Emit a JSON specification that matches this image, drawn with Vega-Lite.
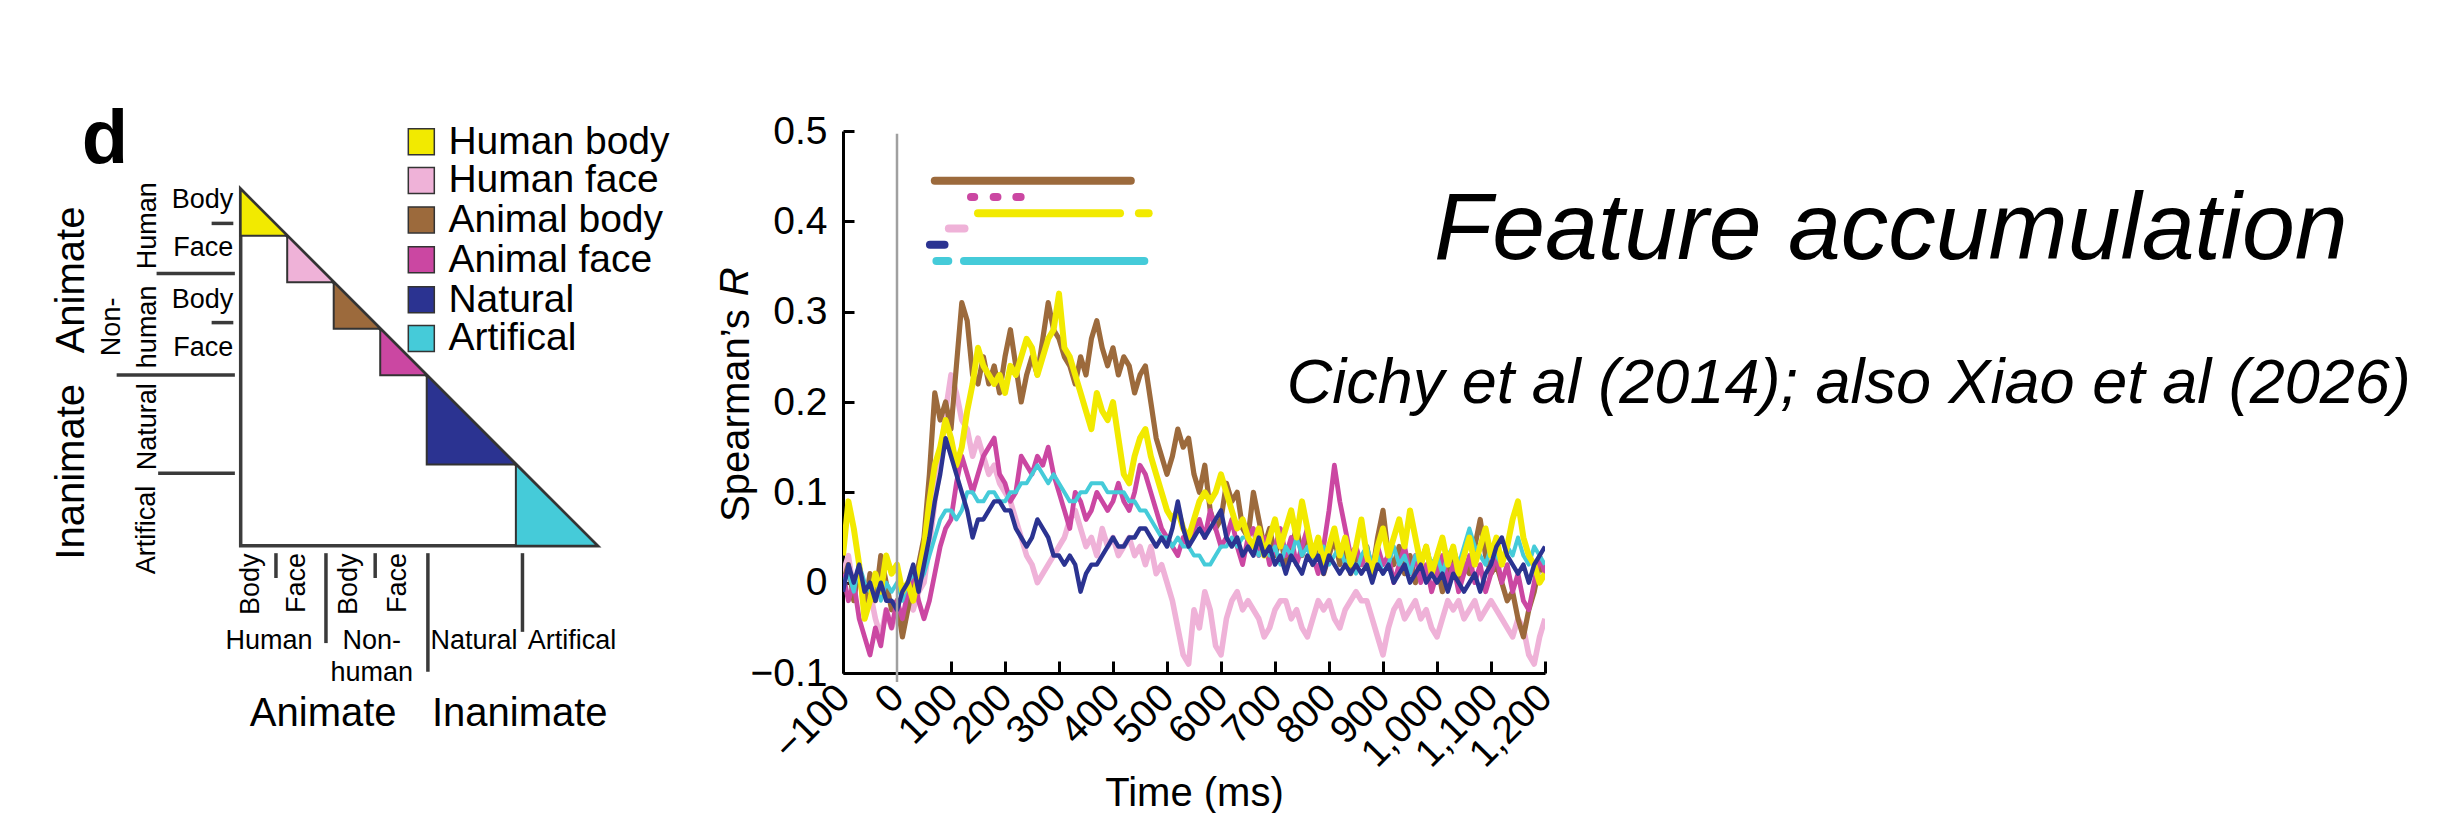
{
  "$schema": "https://vega.github.io/schema/vega-lite/v6.json",
  "padding": 0,
  "background": "white",
  "columns": 3,
  "align": "each",
  "bounds": "flush",
  "spacing": 0,
  "config": {
    "view": {"stroke": null},
    "font": "Liberation Sans",
    "text": {"font": "Liberation Sans", "color": "#000000"},
    "axis": {"labelFont": "Liberation Sans", "titleFont": "Liberation Sans"}
  },
  "datasets": {
    "names": [
      {"k": "hb", "category": "Human body"},
      {"k": "hf", "category": "Human face"},
      {"k": "ab", "category": "Animal body"},
      {"k": "af", "category": "Animal face"},
      {"k": "nat", "category": "Natural"},
      {"k": "art", "category": "Artifical"}
    ],
    "legendrows": [
      {"category": "Human body", "v": -12.3},
      {"category": "Human face", "v": -2.3},
      {"category": "Animal body", "v": 7.9},
      {"category": "Animal face", "v": 18.2},
      {"category": "Natural", "v": 28.5},
      {"category": "Artifical", "v": 38.5}
    ],
    "series": [
      {"t": -100, "hb": 0.03, "hf": 0.01, "ab": 0.00, "af": 0.01, "nat": -0.01, "art": 0.00},
      {"t": -90, "hb": 0.09, "hf": 0.03, "ab": 0.02, "af": -0.02, "nat": 0.02, "art": 0.01},
      {"t": -80, "hb": 0.06, "hf": -0.01, "ab": -0.02, "af": 0.00, "nat": 0.00, "art": -0.01},
      {"t": -70, "hb": 0.02, "hf": 0.01, "ab": 0.02, "af": -0.04, "nat": 0.02, "art": 0.02},
      {"t": -60, "hb": -0.04, "hf": -0.03, "ab": -0.03, "af": -0.06, "nat": -0.01, "art": 0.00},
      {"t": -50, "hb": -0.02, "hf": -0.01, "ab": 0.01, "af": -0.08, "nat": 0.00, "art": -0.01},
      {"t": -40, "hb": 0.01, "hf": -0.04, "ab": -0.02, "af": -0.05, "nat": -0.02, "art": 0.01},
      {"t": -30, "hb": -0.01, "hf": -0.06, "ab": 0.03, "af": -0.07, "nat": 0.00, "art": -0.02},
      {"t": -20, "hb": 0.03, "hf": -0.03, "ab": 0.00, "af": -0.03, "nat": -0.02, "art": 0.00},
      {"t": -10, "hb": 0.01, "hf": -0.05, "ab": -0.03, "af": -0.05, "nat": -0.02, "art": -0.01},
      {"t": 0, "hb": 0.02, "hf": -0.03, "ab": -0.02, "af": -0.02, "nat": -0.03, "art": 0.00},
      {"t": 10, "hb": -0.01, "hf": -0.04, "ab": -0.06, "af": -0.04, "nat": -0.01, "art": -0.02},
      {"t": 20, "hb": 0.00, "hf": -0.02, "ab": -0.03, "af": -0.01, "nat": 0.00, "art": 0.00},
      {"t": 30, "hb": -0.02, "hf": -0.03, "ab": 0.00, "af": 0.01, "nat": 0.02, "art": 0.01},
      {"t": 40, "hb": 0.01, "hf": -0.01, "ab": 0.02, "af": -0.02, "nat": -0.01, "art": 0.00},
      {"t": 50, "hb": 0.04, "hf": 0.00, "ab": 0.05, "af": -0.04, "nat": 0.02, "art": 0.01},
      {"t": 60, "hb": 0.09, "hf": 0.04, "ab": 0.12, "af": -0.02, "nat": 0.05, "art": 0.03},
      {"t": 70, "hb": 0.13, "hf": 0.09, "ab": 0.21, "af": 0.01, "nat": 0.09, "art": 0.05},
      {"t": 80, "hb": 0.15, "hf": 0.13, "ab": 0.18, "af": 0.04, "nat": 0.12, "art": 0.07},
      {"t": 90, "hb": 0.18, "hf": 0.19, "ab": 0.20, "af": 0.06, "nat": 0.16, "art": 0.08},
      {"t": 100, "hb": 0.16, "hf": 0.23, "ab": 0.17, "af": 0.07, "nat": 0.14, "art": 0.08},
      {"t": 110, "hb": 0.13, "hf": 0.21, "ab": 0.24, "af": 0.11, "nat": 0.12, "art": 0.07},
      {"t": 120, "hb": 0.15, "hf": 0.18, "ab": 0.31, "af": 0.14, "nat": 0.10, "art": 0.08},
      {"t": 130, "hb": 0.19, "hf": 0.17, "ab": 0.29, "af": 0.12, "nat": 0.08, "art": 0.10},
      {"t": 140, "hb": 0.22, "hf": 0.14, "ab": 0.23, "af": 0.10, "nat": 0.05, "art": 0.10},
      {"t": 150, "hb": 0.26, "hf": 0.16, "ab": 0.22, "af": 0.12, "nat": 0.07, "art": 0.09},
      {"t": 160, "hb": 0.24, "hf": 0.14, "ab": 0.25, "af": 0.14, "nat": 0.07, "art": 0.09},
      {"t": 170, "hb": 0.23, "hf": 0.12, "ab": 0.22, "af": 0.15, "nat": 0.08, "art": 0.10},
      {"t": 180, "hb": 0.22, "hf": 0.13, "ab": 0.24, "af": 0.16, "nat": 0.09, "art": 0.10},
      {"t": 190, "hb": 0.23, "hf": 0.11, "ab": 0.21, "af": 0.12, "nat": 0.09, "art": 0.09},
      {"t": 200, "hb": 0.21, "hf": 0.10, "ab": 0.25, "af": 0.11, "nat": 0.08, "art": 0.09},
      {"t": 210, "hb": 0.24, "hf": 0.09, "ab": 0.28, "af": 0.09, "nat": 0.08, "art": 0.10},
      {"t": 220, "hb": 0.23, "hf": 0.07, "ab": 0.24, "af": 0.10, "nat": 0.06, "art": 0.10},
      {"t": 230, "hb": 0.25, "hf": 0.05, "ab": 0.20, "af": 0.14, "nat": 0.05, "art": 0.11},
      {"t": 240, "hb": 0.27, "hf": 0.03, "ab": 0.23, "af": 0.13, "nat": 0.04, "art": 0.11},
      {"t": 250, "hb": 0.26, "hf": 0.02, "ab": 0.25, "af": 0.12, "nat": 0.05, "art": 0.12},
      {"t": 260, "hb": 0.23, "hf": 0.00, "ab": 0.23, "af": 0.14, "nat": 0.07, "art": 0.13},
      {"t": 270, "hb": 0.25, "hf": 0.01, "ab": 0.27, "af": 0.13, "nat": 0.06, "art": 0.12},
      {"t": 280, "hb": 0.27, "hf": 0.02, "ab": 0.31, "af": 0.15, "nat": 0.05, "art": 0.11},
      {"t": 290, "hb": 0.28, "hf": 0.03, "ab": 0.28, "af": 0.12, "nat": 0.03, "art": 0.12},
      {"t": 300, "hb": 0.32, "hf": 0.04, "ab": 0.27, "af": 0.10, "nat": 0.03, "art": 0.11},
      {"t": 310, "hb": 0.26, "hf": 0.05, "ab": 0.25, "af": 0.08, "nat": 0.02, "art": 0.10},
      {"t": 320, "hb": 0.25, "hf": 0.07, "ab": 0.24, "af": 0.06, "nat": 0.03, "art": 0.09},
      {"t": 330, "hb": 0.23, "hf": 0.08, "ab": 0.22, "af": 0.10, "nat": 0.02, "art": 0.09},
      {"t": 340, "hb": 0.21, "hf": 0.06, "ab": 0.25, "af": 0.09, "nat": -0.01, "art": 0.10},
      {"t": 350, "hb": 0.19, "hf": 0.04, "ab": 0.23, "af": 0.07, "nat": 0.01, "art": 0.10},
      {"t": 360, "hb": 0.17, "hf": 0.05, "ab": 0.27, "af": 0.08, "nat": 0.02, "art": 0.11},
      {"t": 370, "hb": 0.21, "hf": 0.03, "ab": 0.29, "af": 0.10, "nat": 0.02, "art": 0.11},
      {"t": 380, "hb": 0.19, "hf": 0.06, "ab": 0.26, "af": 0.09, "nat": 0.03, "art": 0.11},
      {"t": 390, "hb": 0.18, "hf": 0.04, "ab": 0.24, "af": 0.08, "nat": 0.04, "art": 0.10},
      {"t": 400, "hb": 0.20, "hf": 0.05, "ab": 0.26, "af": 0.09, "nat": 0.05, "art": 0.10},
      {"t": 410, "hb": 0.16, "hf": 0.03, "ab": 0.23, "af": 0.11, "nat": 0.04, "art": 0.10},
      {"t": 420, "hb": 0.12, "hf": 0.04, "ab": 0.25, "af": 0.09, "nat": 0.04, "art": 0.10},
      {"t": 430, "hb": 0.11, "hf": 0.05, "ab": 0.24, "af": 0.08, "nat": 0.05, "art": 0.09},
      {"t": 440, "hb": 0.14, "hf": 0.03, "ab": 0.21, "af": 0.10, "nat": 0.05, "art": 0.09},
      {"t": 450, "hb": 0.16, "hf": 0.04, "ab": 0.23, "af": 0.13, "nat": 0.06, "art": 0.08},
      {"t": 460, "hb": 0.17, "hf": 0.02, "ab": 0.24, "af": 0.12, "nat": 0.06, "art": 0.08},
      {"t": 470, "hb": 0.14, "hf": 0.04, "ab": 0.20, "af": 0.10, "nat": 0.05, "art": 0.07},
      {"t": 480, "hb": 0.12, "hf": 0.01, "ab": 0.16, "af": 0.08, "nat": 0.04, "art": 0.06},
      {"t": 490, "hb": 0.10, "hf": 0.02, "ab": 0.14, "af": 0.06, "nat": 0.05, "art": 0.05},
      {"t": 500, "hb": 0.08, "hf": 0.00, "ab": 0.12, "af": 0.05, "nat": 0.04, "art": 0.05},
      {"t": 510, "hb": 0.07, "hf": -0.02, "ab": 0.14, "af": 0.04, "nat": 0.06, "art": 0.04},
      {"t": 520, "hb": 0.08, "hf": -0.05, "ab": 0.17, "af": 0.03, "nat": 0.09, "art": 0.05},
      {"t": 530, "hb": 0.06, "hf": -0.08, "ab": 0.15, "af": 0.05, "nat": 0.06, "art": 0.04},
      {"t": 540, "hb": 0.05, "hf": -0.09, "ab": 0.16, "af": 0.04, "nat": 0.04, "art": 0.04},
      {"t": 550, "hb": 0.07, "hf": -0.03, "ab": 0.12, "af": 0.06, "nat": 0.05, "art": 0.03},
      {"t": 560, "hb": 0.09, "hf": -0.05, "ab": 0.10, "af": 0.07, "nat": 0.06, "art": 0.03},
      {"t": 570, "hb": 0.10, "hf": -0.01, "ab": 0.13, "af": 0.05, "nat": 0.05, "art": 0.02},
      {"t": 580, "hb": 0.09, "hf": -0.03, "ab": 0.08, "af": 0.08, "nat": 0.06, "art": 0.02},
      {"t": 590, "hb": 0.10, "hf": -0.07, "ab": 0.06, "af": 0.06, "nat": 0.07, "art": 0.03},
      {"t": 600, "hb": 0.12, "hf": -0.08, "ab": 0.07, "af": 0.04, "nat": 0.08, "art": 0.04},
      {"t": 610, "hb": 0.10, "hf": -0.04, "ab": 0.11, "af": 0.05, "nat": 0.05, "art": 0.04},
      {"t": 620, "hb": 0.08, "hf": -0.02, "ab": 0.09, "af": 0.07, "nat": 0.04, "art": 0.05},
      {"t": 630, "hb": 0.06, "hf": -0.01, "ab": 0.10, "af": 0.04, "nat": 0.05, "art": 0.04},
      {"t": 640, "hb": 0.07, "hf": -0.03, "ab": 0.06, "af": 0.02, "nat": 0.03, "art": 0.05},
      {"t": 650, "hb": 0.05, "hf": -0.02, "ab": 0.05, "af": 0.05, "nat": 0.04, "art": 0.05},
      {"t": 660, "hb": 0.04, "hf": -0.03, "ab": 0.10, "af": 0.06, "nat": 0.03, "art": 0.04},
      {"t": 670, "hb": 0.06, "hf": -0.04, "ab": 0.07, "af": 0.03, "nat": 0.05, "art": 0.03},
      {"t": 680, "hb": 0.03, "hf": -0.06, "ab": 0.04, "af": 0.05, "nat": 0.03, "art": 0.04},
      {"t": 690, "hb": 0.05, "hf": -0.05, "ab": 0.06, "af": 0.02, "nat": 0.04, "art": 0.03},
      {"t": 700, "hb": 0.07, "hf": -0.03, "ab": 0.03, "af": 0.04, "nat": 0.02, "art": 0.04},
      {"t": 710, "hb": 0.04, "hf": -0.02, "ab": 0.05, "af": 0.06, "nat": 0.03, "art": 0.02},
      {"t": 720, "hb": 0.06, "hf": -0.02, "ab": 0.02, "af": 0.03, "nat": 0.01, "art": 0.04},
      {"t": 730, "hb": 0.08, "hf": -0.04, "ab": 0.04, "af": 0.05, "nat": 0.03, "art": 0.03},
      {"t": 740, "hb": 0.05, "hf": -0.03, "ab": 0.06, "af": 0.02, "nat": 0.02, "art": 0.05},
      {"t": 750, "hb": 0.09, "hf": -0.05, "ab": 0.03, "af": 0.04, "nat": 0.01, "art": 0.03},
      {"t": 760, "hb": 0.06, "hf": -0.06, "ab": 0.05, "af": 0.06, "nat": 0.03, "art": 0.04},
      {"t": 770, "hb": 0.03, "hf": -0.04, "ab": 0.02, "af": 0.03, "nat": 0.02, "art": 0.02},
      {"t": 780, "hb": 0.05, "hf": -0.02, "ab": 0.04, "af": 0.01, "nat": 0.03, "art": 0.03},
      {"t": 790, "hb": 0.02, "hf": -0.03, "ab": 0.01, "af": 0.04, "nat": 0.01, "art": 0.04},
      {"t": 800, "hb": 0.04, "hf": -0.02, "ab": 0.03, "af": 0.08, "nat": 0.03, "art": 0.02},
      {"t": 810, "hb": 0.06, "hf": -0.04, "ab": 0.05, "af": 0.13, "nat": 0.02, "art": 0.03},
      {"t": 820, "hb": 0.03, "hf": -0.05, "ab": 0.02, "af": 0.09, "nat": 0.01, "art": 0.04},
      {"t": 830, "hb": 0.05, "hf": -0.03, "ab": 0.04, "af": 0.06, "nat": 0.02, "art": 0.02},
      {"t": 840, "hb": 0.02, "hf": -0.02, "ab": 0.01, "af": 0.03, "nat": 0.01, "art": 0.03},
      {"t": 850, "hb": 0.04, "hf": -0.01, "ab": 0.03, "af": 0.04, "nat": 0.02, "art": 0.01},
      {"t": 860, "hb": 0.07, "hf": -0.02, "ab": 0.02, "af": 0.02, "nat": 0.01, "art": 0.03},
      {"t": 870, "hb": 0.03, "hf": -0.02, "ab": 0.04, "af": 0.03, "nat": 0.02, "art": 0.04},
      {"t": 880, "hb": 0.01, "hf": -0.04, "ab": 0.01, "af": 0.01, "nat": 0.00, "art": 0.02},
      {"t": 890, "hb": 0.04, "hf": -0.06, "ab": 0.05, "af": 0.04, "nat": 0.02, "art": 0.03},
      {"t": 900, "hb": 0.06, "hf": -0.08, "ab": 0.08, "af": 0.02, "nat": 0.01, "art": 0.01},
      {"t": 910, "hb": 0.03, "hf": -0.05, "ab": 0.03, "af": 0.03, "nat": 0.02, "art": 0.02},
      {"t": 920, "hb": 0.05, "hf": -0.03, "ab": 0.02, "af": 0.00, "nat": 0.00, "art": 0.04},
      {"t": 930, "hb": 0.07, "hf": -0.02, "ab": 0.04, "af": 0.02, "nat": 0.01, "art": 0.02},
      {"t": 940, "hb": 0.04, "hf": -0.04, "ab": 0.01, "af": 0.04, "nat": 0.02, "art": 0.03},
      {"t": 950, "hb": 0.08, "hf": -0.03, "ab": 0.03, "af": 0.01, "nat": 0.00, "art": 0.01},
      {"t": 960, "hb": 0.05, "hf": -0.02, "ab": 0.00, "af": 0.03, "nat": 0.01, "art": 0.03},
      {"t": 970, "hb": 0.02, "hf": -0.04, "ab": 0.02, "af": 0.00, "nat": 0.02, "art": 0.02},
      {"t": 980, "hb": 0.04, "hf": -0.03, "ab": 0.04, "af": 0.02, "nat": 0.00, "art": 0.04},
      {"t": 990, "hb": 0.01, "hf": -0.05, "ab": 0.01, "af": -0.01, "nat": 0.01, "art": 0.02},
      {"t": 1000, "hb": 0.03, "hf": -0.06, "ab": 0.02, "af": 0.01, "nat": 0.00, "art": 0.03},
      {"t": 1010, "hb": 0.05, "hf": -0.04, "ab": -0.01, "af": 0.03, "nat": 0.01, "art": 0.01},
      {"t": 1020, "hb": 0.02, "hf": -0.02, "ab": 0.01, "af": 0.00, "nat": -0.01, "art": 0.03},
      {"t": 1030, "hb": 0.04, "hf": -0.03, "ab": 0.03, "af": 0.02, "nat": 0.01, "art": 0.04},
      {"t": 1040, "hb": 0.01, "hf": -0.02, "ab": 0.00, "af": -0.01, "nat": 0.00, "art": 0.02},
      {"t": 1050, "hb": 0.03, "hf": -0.04, "ab": 0.02, "af": 0.01, "nat": -0.01, "art": 0.04},
      {"t": 1060, "hb": 0.05, "hf": -0.03, "ab": 0.01, "af": 0.03, "nat": 0.00, "art": 0.06},
      {"t": 1070, "hb": 0.02, "hf": -0.02, "ab": 0.04, "af": 0.00, "nat": 0.01, "art": 0.04},
      {"t": 1080, "hb": 0.04, "hf": -0.04, "ab": 0.07, "af": 0.02, "nat": -0.01, "art": 0.03},
      {"t": 1090, "hb": 0.06, "hf": -0.03, "ab": 0.03, "af": -0.01, "nat": 0.01, "art": 0.02},
      {"t": 1100, "hb": 0.03, "hf": -0.02, "ab": 0.01, "af": 0.01, "nat": 0.02, "art": 0.04},
      {"t": 1110, "hb": 0.05, "hf": -0.03, "ab": 0.02, "af": 0.03, "nat": 0.04, "art": 0.03},
      {"t": 1120, "hb": 0.02, "hf": -0.04, "ab": 0.00, "af": 0.00, "nat": 0.05, "art": 0.02},
      {"t": 1130, "hb": 0.04, "hf": -0.05, "ab": -0.02, "af": 0.02, "nat": 0.03, "art": 0.04},
      {"t": 1140, "hb": 0.07, "hf": -0.06, "ab": -0.01, "af": -0.01, "nat": 0.02, "art": 0.03},
      {"t": 1150, "hb": 0.09, "hf": -0.04, "ab": -0.04, "af": 0.01, "nat": 0.01, "art": 0.05},
      {"t": 1160, "hb": 0.05, "hf": -0.05, "ab": -0.06, "af": -0.02, "nat": 0.02, "art": 0.03},
      {"t": 1170, "hb": 0.03, "hf": -0.08, "ab": -0.03, "af": -0.03, "nat": 0.00, "art": 0.02},
      {"t": 1180, "hb": 0.02, "hf": -0.09, "ab": -0.01, "af": 0.00, "nat": 0.02, "art": 0.04},
      {"t": 1190, "hb": 0.00, "hf": -0.06, "ab": 0.02, "af": 0.03, "nat": 0.03, "art": 0.03},
      {"t": 1200, "hb": 0.01, "hf": -0.04, "ab": 0.01, "af": 0.01, "nat": 0.04, "art": 0.02}
    ],
    "bars": [
      {"category": "Animal body", "start": 70, "end": 433, "level": 0.445},
      {"category": "Animal face", "start": 137, "end": 143, "level": 0.427},
      {"category": "Animal face", "start": 179, "end": 186, "level": 0.427},
      {"category": "Animal face", "start": 221, "end": 229, "level": 0.427},
      {"category": "Human body", "start": 150, "end": 413, "level": 0.409},
      {"category": "Human body", "start": 448, "end": 466, "level": 0.409},
      {"category": "Human face", "start": 96, "end": 125, "level": 0.392},
      {"category": "Natural", "start": 61, "end": 88, "level": 0.374},
      {"category": "Artifical", "start": 73, "end": 95, "level": 0.356},
      {"category": "Artifical", "start": 124, "end": 458, "level": 0.356}
    ],
    "blocks": [
      {"category": "Human body", "u": 0, "v": 0, "v2": 12},
      {"category": "Human body", "u": 12, "v": 12, "v2": 12},
      {"category": "Human face", "u": 12, "v": 12, "v2": 24},
      {"category": "Human face", "u": 24, "v": 24, "v2": 24},
      {"category": "Animal body", "u": 24, "v": 24, "v2": 36},
      {"category": "Animal body", "u": 36, "v": 36, "v2": 36},
      {"category": "Animal face", "u": 36, "v": 36, "v2": 48},
      {"category": "Animal face", "u": 48, "v": 48, "v2": 48},
      {"category": "Natural", "u": 48, "v": 48, "v2": 71},
      {"category": "Natural", "u": 71, "v": 71, "v2": 71},
      {"category": "Artifical", "u": 71, "v": 71, "v2": 92},
      {"category": "Artifical", "u": 92, "v": 92, "v2": 92}
    ],
    "dividers": [
      {"u1": -7.5, "u2": -1.9, "v1": 8.8, "v2": 8.8},
      {"u1": -21.7, "u2": -1.5, "v1": 21.7, "v2": 21.7},
      {"u1": -7.5, "u2": -1.9, "v1": 34.4, "v2": 34.4},
      {"u1": -32, "u2": -1.5, "v1": 47.9, "v2": 47.9},
      {"u1": -21.3, "u2": -1.5, "v1": 73.3, "v2": 73.3},
      {"u1": 9.1, "u2": 9.1, "v1": 93.9, "v2": 100.3},
      {"u1": 22.0, "u2": 22.0, "v1": 93.9, "v2": 117.1},
      {"u1": 34.7, "u2": 34.7, "v1": 93.9, "v2": 100.3},
      {"u1": 48.3, "u2": 48.3, "v1": 93.9, "v2": 124.5},
      {"u1": 72.7, "u2": 72.7, "v1": 93.9, "v2": 114.2}
    ]
  },
  "concat": [
    {
      "width": 843,
      "height": 131,
      "layer": [
        {
          "data": {"values": [{"u": 0, "v": 0, "v2": 92}, {"u": 92, "v": 92, "v2": 92}]},
          "mark": {"type": "area", "orient": "vertical", "fill": "white", "fillOpacity": 0, "stroke": "#3c3c3c", "strokeWidth": 3.5, "clip": false},
          "encoding": {
            "x": {"field": "u", "type": "quantitative", "scale": {"domain": [-62.1, 155.4], "nice": false, "zero": false}, "axis": null},
            "y": {"field": "v", "type": "quantitative", "scale": {"domain": [-48.85, -15.045], "nice": false, "zero": false, "reverse": true}, "axis": null},
            "y2": {"field": "v2"}
          }
        },
        {
          "data": {"name": "blocks"},
          "mark": {"type": "area", "orient": "vertical", "stroke": "#333333", "strokeWidth": 2, "opacity": 1, "fillOpacity": 1, "clip": false},
          "encoding": {
            "x": {"field": "u", "type": "quantitative"},
            "y": {"field": "v", "type": "quantitative"},
            "y2": {"field": "v2"},
            "color": {
              "field": "category", "type": "nominal", "legend": null,
              "scale": {"domain": ["Human body", "Human face", "Animal body", "Animal face", "Natural", "Artifical"], "range": ["#f2ea00", "#efb2d8", "#9c6a3c", "#cb47a2", "#2b3391", "#45cbd9"]}
            }
          }
        },
        {
          "data": {"name": "legendrows"},
          "mark": {"type": "square", "size": 676, "opacity": 1, "filled": true, "stroke": "#333333", "strokeWidth": 1.5, "clip": false},
          "encoding": {
            "x": {"datum": 46.6, "type": "quantitative"},
            "y": {"field": "v", "type": "quantitative"},
            "color": {"field": "category", "type": "nominal", "legend": null}
          }
        },
        {
          "data": {"name": "legendrows"},
          "mark": {"type": "text", "fontSize": 39, "align": "left", "baseline": "middle", "clip": false},
          "encoding": {
            "x": {"datum": 53.6, "type": "quantitative"},
            "y": {"field": "v", "type": "quantitative"},
            "text": {"field": "category"}
          }
        },
        {
          "data": {"name": "dividers"},
          "mark": {"type": "rule", "color": "#3a3a3a", "strokeWidth": 3.5, "clip": false},
          "encoding": {
            "x": {"field": "u1", "type": "quantitative"},
            "x2": {"field": "u2"},
            "y": {"field": "v1", "type": "quantitative"},
            "y2": {"field": "v2"}
          }
        },
        {
          "data": {"values": [
            {"label": "Body", "u": -1.9, "v": 2.8},
            {"label": "Face", "u": -1.9, "v": 15.2},
            {"label": "Body", "u": -1.9, "v": 28.6},
            {"label": "Face", "u": -1.9, "v": 41.0}
          ]},
          "mark": {"type": "text", "fontSize": 27, "align": "right", "baseline": "middle", "clip": false},
          "encoding": {"x": {"field": "u", "type": "quantitative"}, "y": {"field": "v", "type": "quantitative"}, "text": {"field": "label"}}
        },
        {
          "data": {"values": [
            {"label": "Human", "u": 7.3, "v": 116.5},
            {"label": "Non-", "u": 33.8, "v": 116.5},
            {"label": "human", "u": 33.8, "v": 124.9},
            {"label": "Natural", "u": 60.2, "v": 116.5},
            {"label": "Artifical", "u": 85.5, "v": 116.5}
          ]},
          "mark": {"type": "text", "fontSize": 27, "align": "center", "baseline": "middle", "clip": false},
          "encoding": {"x": {"field": "u", "type": "quantitative"}, "y": {"field": "v", "type": "quantitative"}, "text": {"field": "label"}}
        },
        {
          "data": {"values": [
            {"label": "Human", "u": -23.9, "v": 9.4},
            {"label": "Non-", "u": -33.3, "v": 35.5},
            {"label": "human", "u": -23.9, "v": 35.5},
            {"label": "Natural", "u": -23.9, "v": 61.3},
            {"label": "Artifical", "u": -24.3, "v": 87.9},
            {"label": "Body", "u": 2.7, "v": 101.9},
            {"label": "Face", "u": 14.6, "v": 101.6},
            {"label": "Body", "u": 27.9, "v": 101.9},
            {"label": "Face", "u": 40.6, "v": 101.6}
          ]},
          "mark": {"type": "text", "fontSize": 27, "angle": 270, "align": "center", "baseline": "middle", "clip": false},
          "encoding": {"x": {"field": "u", "type": "quantitative"}, "y": {"field": "v", "type": "quantitative"}, "text": {"field": "label"}}
        },
        {
          "data": {"values": [
            {"label": "Animate", "u": -43.6, "v": 23.4},
            {"label": "Inanimate", "u": -43.6, "v": 72.9}
          ]},
          "mark": {"type": "text", "fontSize": 40, "angle": 270, "align": "center", "baseline": "middle", "clip": false},
          "encoding": {"x": {"field": "u", "type": "quantitative"}, "y": {"field": "v", "type": "quantitative"}, "text": {"field": "label"}}
        },
        {
          "data": {"values": [
            {"label": "Animate", "u": 21.3, "v": 135.5},
            {"label": "Inanimate", "u": 72.0, "v": 135.5}
          ]},
          "mark": {"type": "text", "fontSize": 40, "align": "center", "baseline": "middle", "clip": false},
          "encoding": {"x": {"field": "u", "type": "quantitative"}, "y": {"field": "v", "type": "quantitative"}, "text": {"field": "label"}}
        },
        {
          "data": {"values": [{"label": "d", "u": -41.0, "v": -6.8}]},
          "mark": {"type": "text", "fontSize": 76, "fontWeight": "bold", "align": "left", "baseline": "alphabetic", "clip": false},
          "encoding": {"x": {"field": "u", "type": "quantitative"}, "y": {"field": "v", "type": "quantitative"}, "text": {"field": "label"}}
        }
      ]
    },
    {
      "width": 702,
      "height": 131,
      "data": {"values": []},
      "mark": {"type": "text", "text": ""}
    },
    {
      "width": 915,
      "height": 131,
      "layer": [
        {
          "data": {"values": [{}]},
          "mark": {"type": "text", "text": "Feature accumulation", "fontSize": 95, "fontStyle": "italic", "align": "center", "baseline": "alphabetic", "clip": false},
          "encoding": {
            "x": {"datum": 37.8, "type": "quantitative", "scale": {"domain": [0, 100], "nice": false, "zero": false}, "axis": null},
            "y": {"datum": 31.2, "type": "quantitative", "scale": {"domain": [0, 15.764], "nice": false, "zero": false, "reverse": true}, "axis": null}
          }
        },
        {
          "data": {"values": [{}]},
          "mark": {"type": "text", "text": "Cichy et al (2014); also Xiao et al (2026)", "fontSize": 63, "fontStyle": "italic", "align": "center", "baseline": "alphabetic", "clip": false},
          "encoding": {
            "x": {"datum": 33.2, "type": "quantitative"},
            "y": {"datum": 48.5, "type": "quantitative"}
          }
        }
      ]
    },
    {
      "width": 843,
      "height": 542,
      "data": {"values": []},
      "mark": {"type": "text", "text": ""}
    },
    {
      "width": 702,
      "height": 542,
      "layer": [
        {
          "data": {"name": "series"},
          "transform": [
            {"fold": ["hf", "ab", "af", "art", "hb", "nat"], "as": ["k", "r"]},
            {"lookup": "k", "from": {"data": {"name": "names"}, "key": "k", "fields": ["category"]}}
          ],
          "mark": {"type": "line", "clip": true, "strokeJoin": "round"},
          "encoding": {
            "x": {
              "field": "t", "type": "quantitative",
              "scale": {"domain": [-100, 1200], "nice": false, "zero": false},
              "axis": {
                "values": [-100, 0, 100, 200, 300, 400, 500, 600, 700, 800, 900, 1000, 1100, 1200],
                "format": ",d",
                "labelAngle": -45, "labelAlign": "right", "labelBaseline": "middle",
                "labelFontSize": 39, "labelColor": "#000000", "labelPadding": 30,
                "labelOverlap": false, "labelFlush": false,
                "tickSize": -12, "tickWidth": 3,
                "tickColor": {"condition": {"test": "datum.value === 0", "value": "transparent"}, "value": "#000000"},
                "domainColor": "#000000", "domainWidth": 3, "grid": false,
                "title": "Time (ms)", "titleFontSize": 40, "titleFontWeight": "normal", "titleColor": "#000000",
                "titleY": 132, "titleBaseline": "alphabetic"
              }
            },
            "y": {
              "field": "r", "type": "quantitative",
              "scale": {"domain": [-0.1, 0.5], "nice": false, "zero": false},
              "axis": {
                "values": [-0.1, 0, 0.1, 0.2, 0.3, 0.4, 0.5],
                "format": ".1~f",
                "labelFontSize": 39, "labelColor": "#000000", "labelPadding": 27,
                "labelOverlap": false, "labelFlush": false,
                "tickSize": -11, "tickWidth": 3, "tickColor": "#000000",
                "domainColor": "#000000", "domainWidth": 3, "grid": false,
                "title": "Spearman\u2019s", "titleFontSize": 40, "titleFontWeight": "normal", "titleColor": "#000000",
                "titleAngle": 270, "titleX": -107, "titleY": 284, "titleAlign": "center", "titleBaseline": "middle"
              }
            },
            "color": {
              "field": "category", "type": "nominal", "legend": null,
              "scale": {"domain": ["Human body", "Human face", "Animal body", "Animal face", "Natural", "Artifical"], "range": ["#f2ea00", "#efb2d8", "#9c6a3c", "#cb47a2", "#2b3391", "#45cbd9"]}
            },
            "strokeWidth": {
              "field": "category", "type": "nominal", "legend": null,
              "scale": {"domain": ["Human body", "Human face", "Animal body", "Animal face", "Natural", "Artifical"], "range": [6, 4, 2.5, 4.5, 5, 4]}
            }
          }
        },
        {
          "data": {"name": "bars"},
          "mark": {"type": "rule", "strokeWidth": 8, "strokeCap": "round", "clip": false},
          "encoding": {
            "x": {"field": "start", "type": "quantitative"},
            "x2": {"field": "end"},
            "y": {"field": "level", "type": "quantitative"},
            "color": {"field": "category", "type": "nominal", "legend": null}
          }
        },
        {
          "data": {"values": [{}]},
          "mark": {"type": "rule", "color": "#a0a0a0", "strokeWidth": 2.5, "clip": false},
          "encoding": {
            "x": {"datum": 0, "type": "quantitative"},
            "y": {"datum": 0.497, "type": "quantitative"},
            "y2": {"datum": -0.11}
          }
        },
        {
          "data": {"values": [{}]},
          "mark": {"type": "text", "text": "R", "fontStyle": "italic", "fontSize": 40, "angle": 270, "align": "center", "baseline": "middle", "clip": false},
          "encoding": {
            "x": {"datum": -299, "type": "quantitative"},
            "y": {"datum": 0.333, "type": "quantitative"}
          }
        }
      ]
    }
  ]
}
